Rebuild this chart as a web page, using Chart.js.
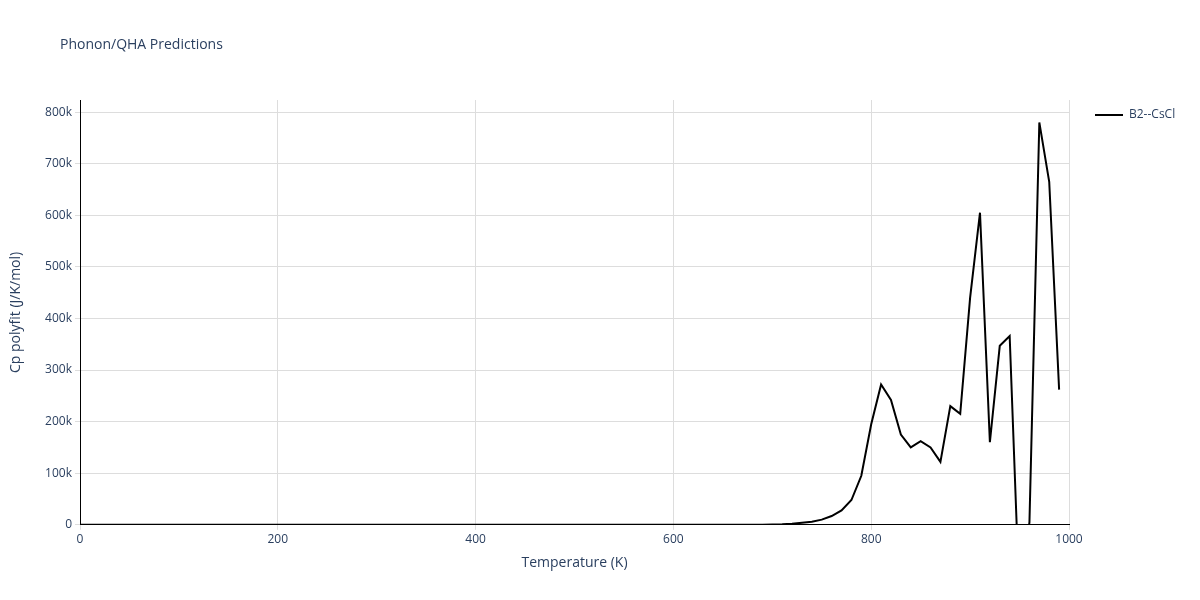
<!DOCTYPE html>
<html><head><script src="https://cdn.jsdelivr.net/npm/chart.js"></script>
<style>body{margin:0;background:#fff}#w{width:1200px;height:600px;position:relative}</style></head>
<body><div id="w"><canvas id="c"></canvas></div>
<script>
const temps=[];for(let t=0;t<1000;t+=10)temps.push(t);
const lowVals=[0,0,0,0,0,0,0,0,0,0, 0,0,0,0,0,0,0,0,0,0, 0,0,0,0,0,0,0,0,0,0, 0,0,0,0,0,0,0,0,0,0, 0,0,0,0,0,0,0,0,0,0, 0,0,0,0,0,0,0,0,0,0, 0,0,0,0,0,0,0,0,0,0];
const highVals=[500,1000,2000,4000,6000,10000,17000,28000,48000,95000,195000,272000,242000,175000,150000,162000,150000,122000,230000,215000,440000,605000,160000,347000,366000,-150000,5000,780000,665000,262000];
const cp=lowVals.concat(highVals);
const yTicks=[0,100000,200000,300000,400000,500000,600000,700000,800000];
const font={family:"'Open Sans', sans-serif",size:12};
const overlay={id:'overlay',afterDraw(ch){const c=ch.ctx;c.save();
c.fillStyle='#2a3f5f';c.font="14px 'Open Sans', sans-serif";c.textBaseline='middle';c.fillText('Phonon/QHA Predictions',60,45);
c.strokeStyle='#000';c.lineWidth=2;c.beginPath();c.moveTo(1095,115);c.lineTo(1123,115);c.stroke();
c.font="12px 'Open Sans', sans-serif";c.fillText('B2--CsCl',1129,115);c.restore();}};
new Chart(document.getElementById('c'),{type:'line',
data:{datasets:[{label:'B2--CsCl',data:temps.map((t,i)=>({x:t,y:cp[i]})),borderColor:'#000',backgroundColor:'#000',borderWidth:2,pointRadius:0,tension:0}]},
options:{responsive:true,maintainAspectRatio:false,animation:false,
layout:{padding:{top:100,right:131,left:4,bottom:25}},
plugins:{title:{display:false},legend:{display:false}},
scales:{x:{type:'linear',min:0,max:1000,ticks:{stepSize:200,color:'#2a3f5f',font,callback:v=>String(v)},grid:{color:'#ddd',tickLength:5},border:{color:'#000'},title:{display:true,text:'Temperature (K)',color:'#2a3f5f',font:{family:font.family,size:14}}},
y:{min:0,max:823500,afterBuildTicks:a=>{a.ticks=yTicks.map(v=>({value:v}))},afterFit:a=>{a.width=76},ticks:{color:'#2a3f5f',font,callback:v=>v===0?'0':(v/1000)+'k'},grid:{color:'#ddd',tickLength:5},border:{color:'#000'},title:{display:true,text:'Cp polyfit (J/K/mol)',color:'#2a3f5f',font:{family:font.family,size:14}}}}},
plugins:[overlay]});
</script></body></html>
